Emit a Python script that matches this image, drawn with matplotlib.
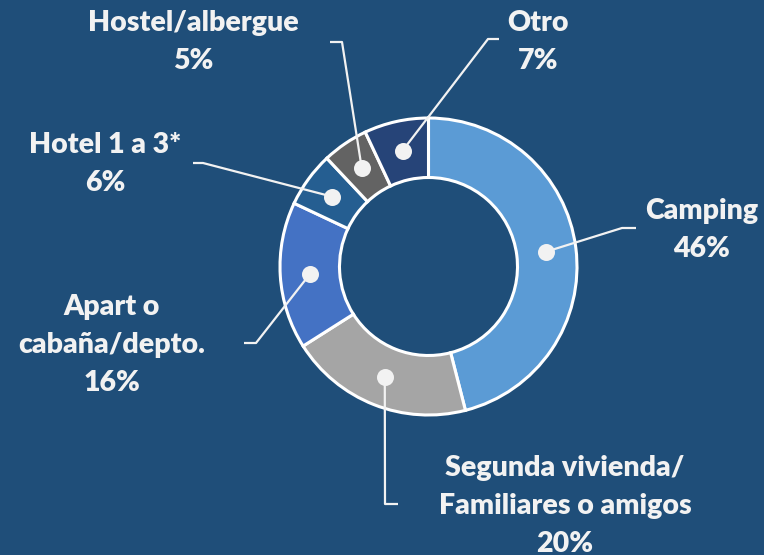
import matplotlib

matplotlib.use("Agg")
import matplotlib.pyplot as plt
import numpy as np

# Data
categories = ["Camping", "Segunda vivienda/\nFamiliares o amigos", "Apart o\ncabaña/depto.",
              "Hotel 1 a 3*", "Hostel/albergue", "Otro"]
shares = [46, 20, 16, 6, 5, 7]
colors = ["#5B9BD5", "#A5A5A5", "#4472C4", "#255E91", "#636363", "#264478"]

# Layout in pixel space (y measured from the top)
W, H = 764, 555
CX, CY = 428.5, 266.5
R_OUT, R_IN = 148.5, 89.0
label_xy = [(702, 230), (565, 506), (112, 345), (105, 164), (193, 42), (538, 42)]
elbow_xy = [(622, 228), (385, 504), (256, 343), (203, 163), (342, 42), (488, 39)]
end_xy = [(636, 228), (398, 504), (244, 343), (193, 163), (330, 42), (499, 39)]

BG = "#1F4E79"
FG = "#F2F2F2"

fig = plt.figure(figsize=(W / 100, H / 100), dpi=100, facecolor=BG)
ax = fig.add_axes([0, 0, 1, 1])
ax.set_facecolor(BG)

ax.pie(shares, colors=colors, startangle=90, counterclock=False,
       center=(CX, H - CY), radius=R_OUT,
       wedgeprops=dict(width=R_OUT - R_IN, edgecolor="white", linewidth=2.2))

ax.set_xlim(0, W)
ax.set_ylim(0, H)
ax.set_aspect("equal")
ax.axis("off")

# Dots and leader lines
r_mid = (R_OUT + R_IN) / 2
cum = np.cumsum([0] + shares[:-1])
for i, (cat, val) in enumerate(zip(categories, shares)):
    mid = np.deg2rad(90 - (cum[i] + val / 2) * 3.6)
    dx, dy = CX + r_mid * np.cos(mid), (H - CY) + r_mid * np.sin(mid)
    ex, ey = elbow_xy[i]
    tx, ty = end_xy[i]
    ax.plot([dx, ex, tx], [dy, H - ey, H - ty], color=FG, lw=1.6,
            solid_capstyle="butt", zorder=3)
    ax.scatter([dx], [dy], s=150, color=FG, zorder=4, linewidths=0)
    lx, ly = label_xy[i]
    ax.text(lx, H - ly, f"{cat}\n{val}%", color=FG, fontsize=20.5,
            fontweight="heavy", family=["Lato", "DejaVu Sans"],
            ha="center", va="center", linespacing=1.58)

fig.savefig("out.png", dpi=100, facecolor=BG)
